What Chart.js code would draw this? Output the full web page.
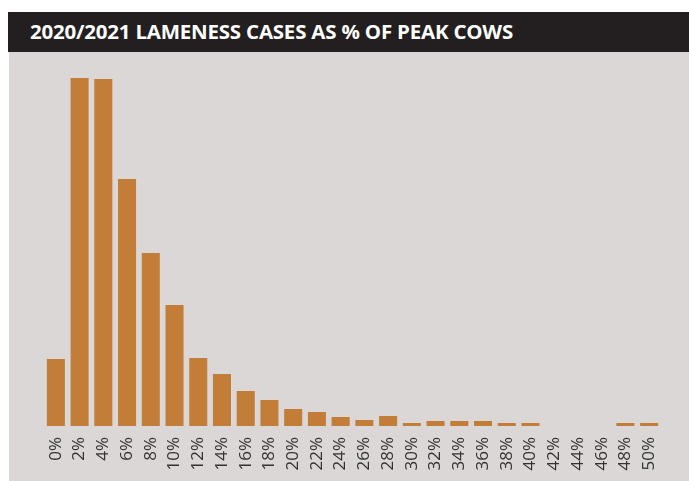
<!DOCTYPE html>
<html>
<head>
<meta charset="utf-8">
<script src="https://cdn.jsdelivr.net/npm/chart.js@4/dist/chart.umd.min.js"></script>
<style>
  html, body { margin: 0; padding: 0; background: #ffffff; width: 689px; height: 481px; overflow: hidden; }
  #titlebar { position: absolute; left: 8px; top: 12px; width: 681px; height: 40px; background: #231f20; }
  #title { position: absolute; left: 22px; top: 0; height: 40px; line-height: 40px; color: #ffffff;
           font-family: "Open Sans", sans-serif; font-weight: 700; font-size: 20px; white-space: nowrap;
           transform-origin: 0 50%; letter-spacing: -0.2px; }
  #panel { position: absolute; left: 9px; top: 52px; width: 680px; height: 429px; background: #dbd7d6; }
  canvas { display: block; }
</style>
</head>
<body>
<div id="titlebar"><span id="title">2020/2021 LAMENESS CASES AS % OF PEAK COWS</span></div>
<div id="panel"><canvas id="c" width="680" height="429"></canvas></div>
<script>
// Categories (lameness cases as % of peak cows)
const categories = ["0%","2%","4%","6%","8%","10%","12%","14%","16%","18%","20%","22%","24%","26%","28%","30%","32%","34%","36%","38%","40%","42%","44%","46%","48%","50%"];
// Relative frequency (number of herds)
const herdCounts = [67,348,347,247,173,121,68,52,35,26,17,14,9,6,10,3,5,5,5,3,3,0,0,0,3,3];
const yMax = 366;

// fit title to reference width
const t = document.getElementById('title');
const w = t.getBoundingClientRect().width;
t.style.transform = 'scaleX(' + (483 / w) + ')';

new Chart(document.getElementById('c'), {
  type: 'bar',
  data: {
    labels: categories,
    datasets: [{
      data: herdCounts,
      backgroundColor: '#c27d39',
      borderWidth: 0,
      barPercentage: 0.76,
      categoryPercentage: 1.0
    }]
  },
  options: {
    responsive: false,
    devicePixelRatio: 1,
    animation: false,
    layout: { padding: { left: 35, right: 28, top: 8, bottom: 0 } },
    plugins: { legend: { display: false }, tooltip: { enabled: false }, title: { display: false } },
    scales: {
      x: {
        grid: { display: false, drawTicks: false },
        border: { display: false },
        ticks: {
          color: '#333333',
          font: { family: '"Open Sans", sans-serif', size: 17 },
          minRotation: 90, maxRotation: 90,
          padding: 11,
          autoSkip: false
        },
        afterFit: (s) => { s.height = 55; }
      },
      y: {
        display: false,
        min: 0,
        max: yMax
      }
    }
  }
});
</script>
</body>
</html>
